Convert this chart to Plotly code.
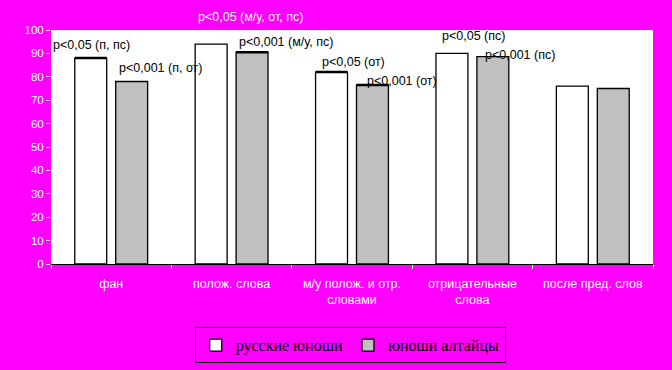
import plotly.graph_objects as go

categories = ["фан", "полож. слова", "м/у полож. и отр.<br>словами", "отрицательные<br>слова", "после пред. слов"]
russian = [88, 94, 82, 90, 76]
altai = [78, 90.5, 76.5, 88.6, 75]
series_names = ["русские юноши", "юноши алтайцы"]
y_ticks = [0, 10, 20, 30, 40, 50, 60, 70, 80, 90, 100]
notes = ["p<0,05 (п, пс)", "p<0,001 (п, от)", "p<0,05 (м/у, от, пс)", "p<0,001 (м/у, пс)",
         "p<0,05 (от)", "p<0,001 (от)", "p<0,05 (пс)", "p<0,001 (пс)"]
# bars whose top edge is drawn with a heavy line in the original
russian_heavy_top = [True, False, True, False, False]
altai_heavy_top = [False, True, True, False, False]

MAGENTA = "#FF00FF"
fig = go.Figure()
fig.add_trace(go.Bar(x=categories, y=russian, name=series_names[0], offsetgroup="r",
                     marker=dict(color="white", line=dict(color="black", width=1.3))))
fig.add_trace(go.Bar(x=categories, y=altai, name=series_names[1], offsetgroup="a",
                     marker=dict(color="#C0C0C0", line=dict(color="black", width=1.3))))
for vals, flags, grp in [(russian, russian_heavy_top, "r"), (altai, altai_heavy_top, "a")]:
    fig.add_trace(go.Bar(x=categories, y=[v if f else None for v, f in zip(vals, flags)],
                         offsetgroup=grp, showlegend=False, hoverinfo="skip",
                         marker=dict(color="rgba(0,0,0,0)", line=dict(width=0)),
                         error_y=dict(type="constant", value=0, width=16, thickness=2.5, color="black")))

note_pos = [(0.0, 0.936, "black"), (0.110, 0.838, "black"), (0.241, 1.056, "white"), (0.309, 0.949, "black"),
            (0.447, 0.863, "black"), (0.522, 0.782, "black"), (0.646, 0.974, "black"), (0.718, 0.893, "black")]
for t, (px, py, col) in zip(notes, note_pos):
    fig.add_annotation(text=t, x=px, y=py, xref="paper", yref="paper", xanchor="left", yanchor="middle",
                       showarrow=False, font=dict(family="Liberation Sans, Arial", size=12.5, color=col))

fig.update_layout(
    width=672, height=370,
    paper_bgcolor=MAGENTA, plot_bgcolor="white",
    margin=dict(l=51, r=19, t=30, b=106, autoexpand=False),
    barmode="group", bargap=0.32, bargroupgap=0.22,
    font=dict(family="Liberation Sans, Arial", size=12, color="white"),
    legend=dict(orientation="h", x=0.497, xanchor="center", y=-0.27, yanchor="top",
                bgcolor=MAGENTA, bordercolor="black", borderwidth=1,
                font=dict(family="Liberation Serif, Times New Roman", size=16, color="black"),
                itemwidth=30, tracegroupgap=0),
    xaxis=dict(showline=True, linecolor="black", linewidth=1, ticks="outside", tickcolor="white",
               ticklen=4, tickson="boundaries", ticklabelstandoff=8,
               tickfont=dict(color="white", size=12.5), showgrid=False),
    yaxis=dict(range=[0, 100], tickvals=y_ticks, showline=False, ticks="outside", tickcolor="white",
               ticklen=4, showgrid=False, zeroline=False, tickfont=dict(color="white", size=11.5)),
)
fig.write_html("out.html", post_script="document.body.style.margin='0';",
               config={"displayModeBar": False})
